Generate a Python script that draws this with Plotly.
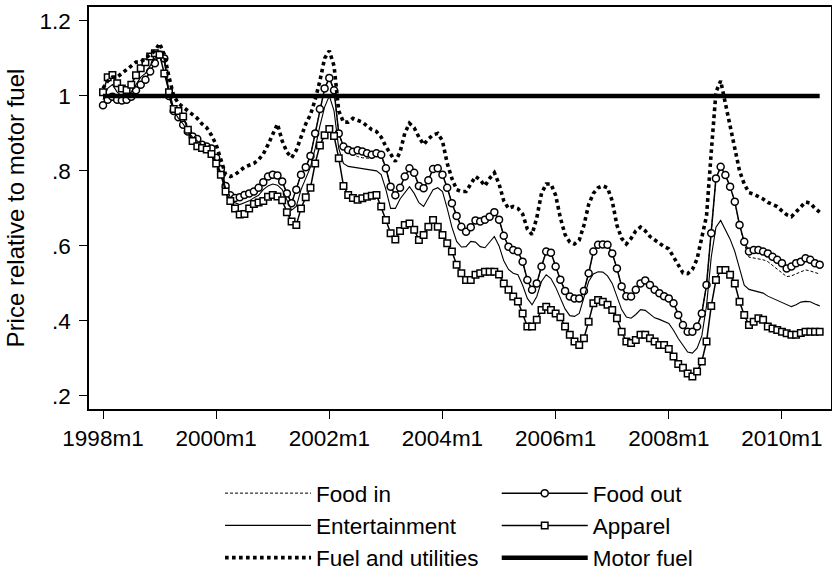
import plotly.graph_objects as go

months = list(range(153))  # 1998m1 .. 2010m9
tick_vals = [0, 24, 48, 72, 96, 120, 144]
tick_text = ["1998m1", "2000m1", "2002m1", "2004m1", "2006m1", "2008m1", "2010m1"]
ytick_vals = [0.2, 0.4, 0.6, 0.8, 1.0, 1.2]
ytick_text = [".2", ".4", ".6", ".8", "1", "1.2"]

food_out = [
0.975,0.99,0.998,0.99,0.988,0.99,0.998,1.015,1.03,1.043,1.065,1.087,
1.11,1.10,1.00,0.96,0.943,0.923,0.905,0.892,0.885,0.87,0.865,0.86,
0.835,0.805,0.76,0.735,0.728,0.73,0.736,0.74,0.745,0.755,0.77,0.785,
0.79,0.788,0.772,0.74,0.714,0.75,0.79,0.81,0.84,0.90,0.965,1.02,
1.048,1.015,0.90,0.865,0.856,0.851,0.855,0.852,0.847,0.843,0.847,0.843,
0.807,0.758,0.735,0.755,0.785,0.807,0.795,0.76,0.754,0.775,0.805,0.807,
0.79,0.755,0.714,0.68,0.651,0.638,0.65,0.668,0.665,0.67,0.678,0.69,
0.67,0.627,0.598,0.589,0.585,0.558,0.509,0.483,0.50,0.545,0.585,0.582,
0.545,0.51,0.48,0.465,0.46,0.46,0.48,0.527,0.585,0.603,0.604,0.603,
0.58,0.54,0.492,0.466,0.465,0.483,0.50,0.508,0.496,0.483,0.474,0.466,
0.46,0.447,0.416,0.389,0.371,0.371,0.385,0.42,0.496,0.634,0.78,0.811,
0.789,0.758,0.718,0.656,0.611,0.585,0.589,0.589,0.585,0.58,0.571,0.563,
0.554,0.54,0.545,0.554,0.558,0.567,0.563,0.554,0.55]

food_in = [
0.975,0.99,0.998,0.99,0.988,0.99,0.998,1.015,1.03,1.043,1.065,1.087,
1.11,1.10,1.00,0.96,0.943,0.923,0.905,0.892,0.885,0.87,0.865,0.86,
0.835,0.805,0.76,0.735,0.728,0.73,0.736,0.74,0.745,0.755,0.77,0.785,
0.79,0.788,0.772,0.74,0.714,0.75,0.79,0.81,0.84,0.90,0.965,1.02,
1.048,1.015,0.90,0.865,0.852,0.845,0.838,0.835,0.835,0.833,0.84,0.838,
0.807,0.758,0.735,0.755,0.785,0.807,0.795,0.76,0.754,0.775,0.805,0.807,
0.79,0.755,0.714,0.68,0.651,0.638,0.65,0.668,0.665,0.67,0.678,0.69,
0.67,0.627,0.598,0.589,0.585,0.558,0.509,0.483,0.50,0.545,0.585,0.582,
0.545,0.51,0.48,0.465,0.46,0.46,0.48,0.527,0.585,0.603,0.604,0.603,
0.58,0.54,0.492,0.466,0.465,0.483,0.50,0.508,0.496,0.483,0.474,0.466,
0.46,0.447,0.416,0.389,0.371,0.371,0.385,0.42,0.496,0.634,0.78,0.811,
0.789,0.758,0.718,0.656,0.605,0.57,0.568,0.566,0.563,0.558,0.548,0.54,
0.53,0.518,0.52,0.526,0.53,0.536,0.533,0.528,0.525]

entertainment = [
0.99,1.02,1.03,1.01,1.0,1.0,1.01,1.03,1.05,1.06,1.08,1.10,
1.11,1.10,1.0,0.96,0.94,0.925,0.905,0.89,0.88,0.865,0.86,0.85,
0.825,0.795,0.755,0.73,0.715,0.71,0.715,0.72,0.728,0.735,0.75,0.76,
0.765,0.762,0.75,0.72,0.695,0.705,0.75,0.78,0.81,0.86,0.92,0.97,
1.0,0.96,0.86,0.82,0.812,0.81,0.808,0.806,0.804,0.802,0.80,0.79,
0.75,0.70,0.70,0.725,0.74,0.758,0.74,0.715,0.705,0.728,0.75,0.755,
0.745,0.70,0.65,0.612,0.597,0.598,0.612,0.61,0.598,0.595,0.61,0.625,
0.60,0.56,0.537,0.527,0.523,0.495,0.46,0.443,0.465,0.505,0.523,0.513,
0.49,0.462,0.432,0.414,0.412,0.42,0.46,0.505,0.525,0.531,0.53,0.52,
0.50,0.463,0.43,0.41,0.407,0.417,0.43,0.428,0.418,0.408,0.404,0.398,
0.393,0.375,0.353,0.335,0.317,0.314,0.327,0.36,0.44,0.57,0.65,0.668,
0.645,0.618,0.585,0.54,0.495,0.484,0.48,0.478,0.474,0.466,0.46,0.455,
0.45,0.442,0.438,0.443,0.45,0.452,0.451,0.445,0.44]

apparel = [
1.01,1.05,1.056,1.034,1.02,1.016,1.03,1.055,1.074,1.09,1.105,1.114,
1.11,1.06,1.01,0.965,0.96,0.945,0.91,0.88,0.866,0.861,0.857,0.845,
0.82,0.79,0.745,0.72,0.70,0.684,0.685,0.70,0.712,0.716,0.72,0.731,
0.736,0.732,0.722,0.69,0.665,0.656,0.70,0.73,0.755,0.82,0.868,0.895,
0.912,0.893,0.834,0.76,0.736,0.728,0.723,0.727,0.731,0.734,0.736,0.705,
0.669,0.634,0.617,0.64,0.656,0.66,0.643,0.616,0.629,0.651,0.669,0.651,
0.629,0.607,0.585,0.55,0.527,0.509,0.509,0.523,0.527,0.531,0.531,0.531,
0.524,0.50,0.483,0.465,0.452,0.42,0.385,0.385,0.403,0.429,0.438,0.429,
0.42,0.41,0.385,0.363,0.345,0.336,0.354,0.398,0.447,0.456,0.451,0.443,
0.429,0.407,0.371,0.345,0.341,0.349,0.363,0.363,0.354,0.345,0.336,0.336,
0.325,0.305,0.285,0.275,0.26,0.252,0.265,0.292,0.345,0.44,0.509,0.536,
0.536,0.523,0.50,0.451,0.416,0.389,0.398,0.407,0.403,0.385,0.38,0.376,
0.371,0.367,0.363,0.363,0.368,0.371,0.371,0.371,0.371]

fuel_util = [
1.02,1.04,1.05,1.05,1.06,1.07,1.08,1.09,1.09,1.10,1.11,1.12,
1.14,1.11,1.05,1.00,0.98,0.97,0.96,0.95,0.94,0.925,0.915,0.895,
0.87,0.83,0.79,0.785,0.79,0.80,0.81,0.815,0.82,0.83,0.845,0.87,
0.90,0.925,0.88,0.85,0.835,0.855,0.89,0.925,0.95,0.99,1.04,1.10,
1.12,1.08,0.96,0.93,0.93,0.94,0.935,0.93,0.92,0.91,0.905,0.89,
0.865,0.845,0.825,0.85,0.90,0.927,0.915,0.89,0.87,0.885,0.896,0.90,
0.88,0.82,0.78,0.75,0.745,0.745,0.765,0.785,0.776,0.76,0.78,0.795,
0.765,0.72,0.70,0.705,0.70,0.685,0.645,0.63,0.675,0.74,0.765,0.765,
0.735,0.675,0.63,0.61,0.605,0.615,0.655,0.71,0.74,0.755,0.76,0.755,
0.72,0.655,0.62,0.605,0.62,0.64,0.65,0.64,0.625,0.615,0.605,0.598,
0.592,0.572,0.55,0.528,0.526,0.537,0.565,0.62,0.68,0.85,1.01,1.04,
0.98,0.91,0.85,0.80,0.765,0.742,0.738,0.732,0.725,0.716,0.71,0.705,
0.693,0.683,0.678,0.69,0.705,0.717,0.714,0.70,0.69]

motor_fuel = [1.0] * 153

FONT = "Liberation Sans, Arial, sans-serif"
fig = go.Figure()

fig.add_trace(go.Scatter(x=months, y=food_in, name="Food in", mode="lines",
    line=dict(color="black", width=1, dash="3px,2px"), legend="legend"))
fig.add_trace(go.Scatter(x=months, y=food_out, name="Food out", mode="lines+markers",
    line=dict(color="black", width=1.5),
    marker=dict(symbol="circle", size=7, color="white", line=dict(color="black", width=1.5)),
    legend="legend2"))
fig.add_trace(go.Scatter(x=months, y=entertainment, name="Entertainment", mode="lines",
    line=dict(color="black", width=1.1), legend="legend"))
fig.add_trace(go.Scatter(x=months, y=apparel, name="Apparel", mode="lines+markers",
    line=dict(color="black", width=1.5),
    marker=dict(symbol="square", size=6.5, color="white", line=dict(color="black", width=1.5)),
    legend="legend2"))
fig.add_trace(go.Scatter(x=months, y=fuel_util, name="Fuel and utilities", mode="lines",
    line=dict(color="black", width=3.6, dash="3.6px,3.4px"), legend="legend"))
fig.add_trace(go.Scatter(x=months, y=motor_fuel, name="Motor fuel", mode="lines",
    line=dict(color="black", width=4.5), legend="legend2"))

LEG_FONT = 22.5
LEG_Y = 1 - 472.0 / 572
fig.update_layout(
    width=832, height=572,
    margin=dict(l=89, r=1, t=7, b=163, autoexpand=False),
    paper_bgcolor="white", plot_bgcolor="white",
    font=dict(family=FONT, size=22, color="black"),
    showlegend=True,
    legend=dict(x=0.1766, y=LEG_Y, xref="paper", yref="container",
                xanchor="left", yanchor="top",
                font=dict(size=LEG_FONT), itemwidth=86, bgcolor="rgba(0,0,0,0)",
                traceorder="normal"),
    legend2=dict(x=0.5495, y=LEG_Y, xref="paper", yref="container",
                 xanchor="left", yanchor="top",
                 font=dict(size=LEG_FONT), itemwidth=86, bgcolor="rgba(0,0,0,0)",
                 traceorder="normal"),
)
fig.update_xaxes(range=[-2.97, 154.4], tickmode="array", tickvals=tick_vals, ticktext=tick_text,
                 showgrid=False, zeroline=False, showline=True, linecolor="black", linewidth=1.5,
                 mirror=True, ticks="outside", ticklen=8, tickwidth=1.2, tickcolor="black",
                 tickfont=dict(size=22.5), automargin=False)
fig.update_yaxes(range=[0.165, 1.237], tickmode="array", tickvals=ytick_vals, ticktext=ytick_text,
                 showgrid=False, zeroline=False, showline=True, linecolor="black", linewidth=1.5,
                 mirror=True, ticks="outside", ticklen=8, tickwidth=1.2, tickcolor="black",
                 tickfont=dict(size=22.5), ticklabelstandoff=4, automargin=False,
                 title=dict(text="Price relative to motor fuel", font=dict(size=24), standoff=8))

fig.write_html("out.html")
